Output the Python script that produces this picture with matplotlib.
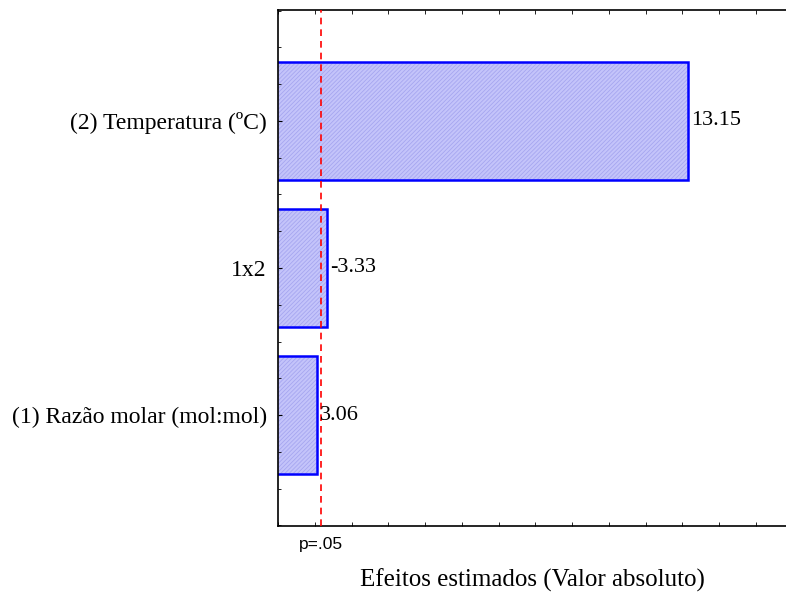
import numpy as np
import matplotlib.pyplot as plt
from matplotlib.ticker import MultipleLocator

# dados do grafico de Pareto
fatores = ['(1) Razão molar (mol:mol)', '1x2', '(2) Temperatura (ºC)']
efeitos = [3.06, -3.33, 13.15]
rotulos = ['3.06', '-3.33', '13.15']
p_lim = 3.182

plt.rcParams['hatch.linewidth'] = 0.6

fig = plt.figure(figsize=(7.86, 5.95), dpi=100)
ax = fig.add_axes([278/786, 1 - 526/595, 1 - 278/786, (526 - 10)/595])

pos = np.arange(len(fatores))
vals = np.abs(efeitos)
# preenchimento hachurado claro, depois o contorno azul
ax.barh(pos, vals, height=0.8, left=0, color='#c4c4fa', edgecolor='#a6a6f0',
        linewidth=0, hatch='////////')
ax.barh(pos, vals, height=0.8, left=0, fill=False, edgecolor='#0000ff',
        linewidth=1.8)
ax.axvline(p_lim, color='#ff0000', linestyle=(0, (4, 3)), linewidth=1.2, zorder=3)

for y, v, r in zip(pos, vals, rotulos):
    ax.text(v + 0.08, y, r, va='center', ha='left', family='Liberation Serif', fontsize=16)

ax.set_xlim(2, 15.82)
ax.set_ylim(-0.755, 2.755)
ax.set_yticks(pos)
ax.set_yticklabels(fatores, family='Liberation Serif', fontsize=17)
ax.yaxis.set_minor_locator(MultipleLocator(0.25))
ax.set_xticks([p_lim])
ax.set_xticklabels(['p=.05'], family='Liberation Sans', fontsize=12.5)
ax.xaxis.set_minor_locator(MultipleLocator(1))
ax.tick_params(axis='x', which='major', length=0, pad=8)
ax.tick_params(axis='x', which='minor', direction='in', length=3, top=True)
ax.tick_params(axis='y', which='major', direction='in', length=3, pad=8)
ax.tick_params(axis='y', which='minor', direction='in', length=2)
ax.spines['right'].set_visible(False)
for s in ['left', 'bottom', 'top']:
    ax.spines[s].set_linewidth(1.2)

ax.set_xlabel('Efeitos estimados (Valor absoluto)', family='Liberation Serif',
              fontsize=18, labelpad=12)

plt.savefig('out.png', dpi=100)
